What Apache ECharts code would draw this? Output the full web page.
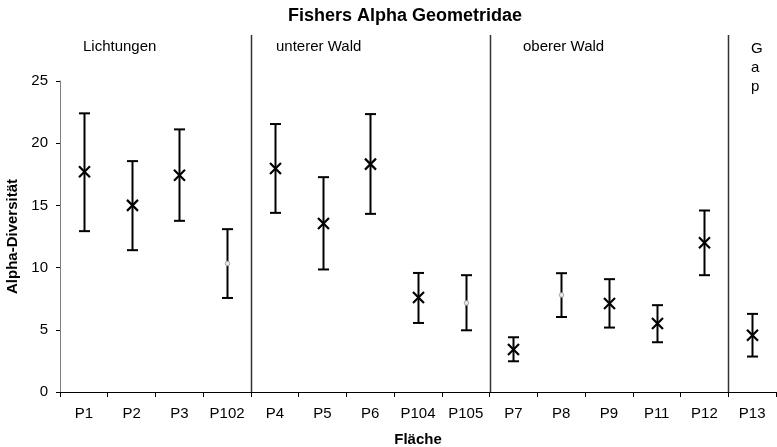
<!DOCTYPE html>
<html>
<head>
<meta charset="utf-8">
<script src="https://cdn.jsdelivr.net/npm/echarts@6/dist/echarts.min.js"></script>
<style>html,body{margin:0;padding:0;background:#fff;}#c{width:777px;height:447px;}</style>
</head>
<body>
<div id="c"></div>
<script>
const categories = ['P1','P2','P3','P102','P4','P5','P6','P104','P105','P7','P8','P9','P11','P12','P13'];
const meanValues = [17.70, 15.00, 17.43, 10.33, 17.97, 13.55, 18.32, 7.59, 7.16, 3.41, 7.80, 7.11, 5.50, 11.99, 4.56];
const lowerValues = [12.93, 11.40, 13.76, 7.56, 14.40, 9.85, 14.32, 5.55, 4.96, 2.47, 6.03, 5.18, 4.00, 9.39, 2.85];
const upperValues = [22.40, 18.56, 21.11, 13.09, 21.54, 17.27, 22.34, 9.57, 9.39, 4.40, 9.55, 9.07, 6.98, 14.59, 6.28];
// 1 = cross marker, 0 = small grey dot
const markerKinds = [1, 1, 1, 0, 1, 1, 1, 1, 0, 1, 0, 1, 1, 1, 1];
const sectionNames = ['Lichtungen', 'unterer Wald', 'oberer Wald', 'G\na\np'];
const sectionStarts = [4, 9, 14];
const yTicks = [0, 5, 10, 15, 20, 25];

const FONT = '"Liberation Sans", Arial, sans-serif';
const chart = echarts.init(document.getElementById('c'), null, {renderer: 'canvas'});

const errData = categories.map((c, i) => [i, meanValues[i], lowerValues[i], upperValues[i], markerKinds[i]]);

const option = {
  animation: false,
  backgroundColor: '#fff',
  title: {
    text: 'Fishers Alpha Geometridae',
    left: 283, top: 2,
    textStyle: {fontFamily: FONT, fontSize: 18, fontWeight: 'bold', color: '#000'}
  },
  grid: {left: 60, right: 1, top: 81, bottom: 55, containLabel: false, outerBoundsMode: 'none'},
  xAxis: {
    type: 'category',
    data: categories,
    name: 'Fläche',
    nameLocation: 'middle',
    nameGap: 40,
    nameTextStyle: {fontFamily: FONT, fontSize: 15, fontWeight: 'bold', color: '#000'},
    axisLine: {lineStyle: {color: '#000', width: 1}},
    axisTick: {show: true, length: 5, lineStyle: {color: '#000'}},
    axisLabel: {fontFamily: FONT, fontSize: 15, color: '#000', margin: 14},
    splitLine: {show: false}
  },
  yAxis: {
    type: 'value',
    min: yTicks[0], max: yTicks[yTicks.length - 1], interval: 5,
    name: 'Alpha-Diversität',
    nameLocation: 'middle',
    nameGap: 37,
    nameTextStyle: {fontFamily: FONT, fontSize: 15, fontWeight: 'bold', color: '#000'},
    axisLine: {show: true, lineStyle: {color: '#808080', width: 1}},
    axisTick: {show: true, length: 4, lineStyle: {color: '#000'}},
    axisLabel: {fontFamily: FONT, fontSize: 15, color: '#000', margin: 12},
    splitLine: {show: false}
  },
  graphic: [
    {type: 'text', left: 83, top: 39, style: {text: sectionNames[0], font: '15px ' + FONT, fill: '#000'}},
    {type: 'text', left: 276, top: 39, style: {text: sectionNames[1], font: '15px ' + FONT, fill: '#000'}},
    {type: 'text', left: 523, top: 39, style: {text: sectionNames[2], font: '15px ' + FONT, fill: '#000'}},
    {type: 'text', left: 751, top: 39, style: {text: sectionNames[3], font: '15px ' + FONT, fill: '#000', lineHeight: 19, align: 'center'}}
  ],
  series: [
    {
      type: 'custom',
      name: 'separators',
      data: sectionStarts.map(s => [s]),
      encode: {x: 0},
      renderItem: function (params, api) {
        const idx = api.value(0);
        const w = api.size([1, 0])[0];
        const p0 = api.coord([idx, 0]);
        const pTop = api.coord([idx, 25]);
        const x = Math.round(p0[0] - w / 2) + 0.5;
        return {
          type: 'line',
          shape: {x1: x, y1: pTop[1] - 46, x2: x, y2: p0[1]},
          style: {stroke: '#333', lineWidth: 1.5}
        };
      }
    },
    {
      type: 'custom',
      name: 'errors',
      data: errData,
      encode: {x: 0, y: [1, 2, 3]},
      renderItem: function (params, api) {
        const i = api.value(0);
        const pM = api.coord([i, api.value(1)]);
        const pL = api.coord([i, api.value(2)]);
        const pH = api.coord([i, api.value(3)]);
        const x = Math.round(pM[0]) + 0.5;
        const cap = 5.5;
        const st = {stroke: '#000', lineWidth: 2};
        const children = [
          {type: 'line', shape: {x1: x, y1: pH[1], x2: x, y2: pL[1]}, style: st},
          {type: 'line', shape: {x1: x - cap, y1: pH[1], x2: x + cap, y2: pH[1]}, style: st},
          {type: 'line', shape: {x1: x - cap, y1: pL[1], x2: x + cap, y2: pL[1]}, style: st}
        ];
        if (api.value(4) === 1) {
          const m = 5.5;
          const y = pM[1];
          children.push({type: 'line', shape: {x1: x - m, y1: y - m, x2: x + m, y2: y + m}, style: {stroke: '#000', lineWidth: 2.2}});
          children.push({type: 'line', shape: {x1: x - m, y1: y + m, x2: x + m, y2: y - m}, style: {stroke: '#000', lineWidth: 2.2}});
        } else {
          children.push({type: 'circle', shape: {cx: x, cy: pM[1], r: 2.3}, style: {fill: '#e8e8e8', stroke: '#aaaaaa', lineWidth: 1}});
        }
        return {type: 'group', children: children};
      }
    }
  ]
};
chart.setOption(option);
</script>
</body>
</html>
